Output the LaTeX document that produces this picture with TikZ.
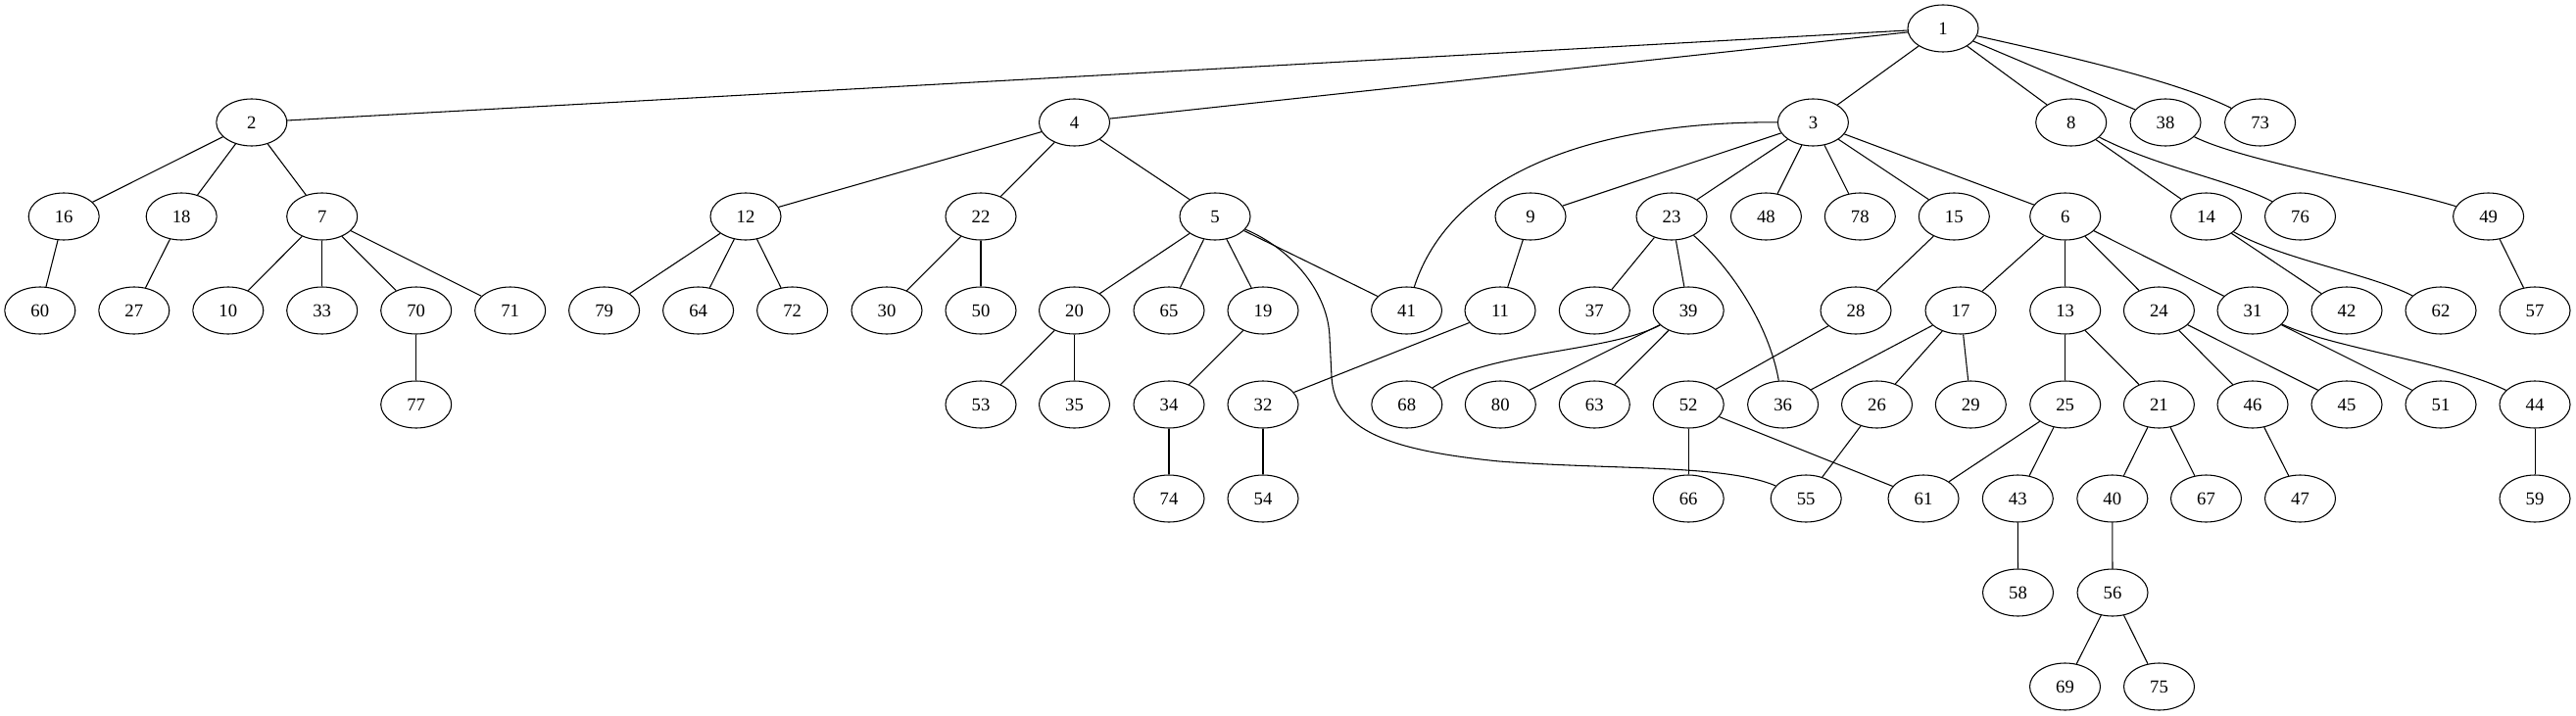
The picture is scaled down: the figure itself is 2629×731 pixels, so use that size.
\documentclass[tikz,border=0pt]{standalone}
\usepackage{fontspec}
\setmainfont{Liberation Serif}
\usetikzlibrary{shapes.geometric}
\tikzset{
  nd/.style={draw, ellipse, minimum width=54pt, minimum height=36pt, inner sep=0pt, line width=0.8pt, font=\fontsize{14}{16}\selectfont},
  ed/.style={line width=0.8pt}
}
\begin{document}
\begin{tikzpicture}[x=0.75pt,y=-0.75pt]
\useasboundingbox (0,0) rectangle (2629,731);
% row 0
\node[nd] (n1) at (1983,29) {1};
% row 1
\node[nd] (n2) at (256.8,125) {2};
\node[nd] (n4) at (1096.5,125) {4};
\node[nd] (n3) at (1850.4,125) {3};
\node[nd] (n8) at (2113.7,125) {8};
\node[nd] (n38) at (2210,125) {38};
\node[nd] (n73) at (2306.6,125) {73};
% row 2
\node[nd] (n16) at (65.2,221) {16};
\node[nd] (n18) at (185.2,221) {18};
\node[nd] (n7) at (328.7,221) {7};
\node[nd] (n12) at (761,221) {12};
\node[nd] (n22) at (1001,221) {22};
\node[nd] (n5) at (1240,221) {5};
\node[nd] (n9) at (1562,221) {9};
\node[nd] (n23) at (1706,221) {23};
\node[nd] (n48) at (1802.4,221) {48};
\node[nd] (n78) at (1898.3,221) {78};
\node[nd] (n15) at (1994.3,221) {15};
\node[nd] (n6) at (2107.7,221) {6};
\node[nd] (n14) at (2251.5,221) {14};
\node[nd] (n76) at (2347.5,221) {76};
\node[nd] (n49) at (2539.6,221) {49};
% row 3
\node[nd] (n60) at (40.8,317) {60};
\node[nd] (n27) at (136.8,317) {27};
\node[nd] (n10) at (232.8,317) {10};
\node[nd] (n33) at (328.7,317) {33};
\node[nd] (n70) at (424.7,317) {70};
\node[nd] (n71) at (520.7,317) {71};
\node[nd] (n79) at (616.6,317) {79};
\node[nd] (n64) at (712.6,317) {64};
\node[nd] (n72) at (808.6,317) {72};
\node[nd] (n30) at (905,317) {30};
\node[nd] (n50) at (1001,317) {50};
\node[nd] (n20) at (1096.5,317) {20};
\node[nd] (n65) at (1193,317) {65};
\node[nd] (n19) at (1289,317) {19};
\node[nd] (n41) at (1435.5,317) {41};
\node[nd] (n11) at (1531,317) {11};
\node[nd] (n37) at (1627.3,317) {37};
\node[nd] (n39) at (1723.2,317) {39};
\node[nd] (n28) at (1894,317) {28};
\node[nd] (n17) at (2001,317) {17};
\node[nd] (n13) at (2107.7,317) {13};
\node[nd] (n24) at (2203.4,317) {24};
\node[nd] (n31) at (2299,317) {31};
\node[nd] (n42) at (2395,317) {42};
\node[nd] (n62) at (2491,317) {62};
\node[nd] (n57) at (2587,317) {57};
% row 4
\node[nd] (n77) at (424.7,413) {77};
\node[nd] (n53) at (1001,413) {53};
\node[nd] (n35) at (1096.5,413) {35};
\node[nd] (n34) at (1193,413) {34};
\node[nd] (n32) at (1289,413) {32};
\node[nd] (n68) at (1435.8,413) {68};
\node[nd] (n80) at (1531.3,413) {80};
\node[nd] (n63) at (1627.3,413) {63};
\node[nd] (n52) at (1723.2,413) {52};
\node[nd] (n36) at (1819.6,413) {36};
\node[nd] (n26) at (1915.5,413) {26};
\node[nd] (n29) at (2011.3,413) {29};
\node[nd] (n25) at (2107.7,413) {25};
\node[nd] (n21) at (2203.4,413) {21};
\node[nd] (n46) at (2299,413) {46};
\node[nd] (n45) at (2395,413) {45};
\node[nd] (n51) at (2491,413) {51};
\node[nd] (n44) at (2587,413) {44};
% row 5
\node[nd] (n74) at (1193,509) {74};
\node[nd] (n54) at (1289,509) {54};
\node[nd] (n66) at (1723.2,509) {66};
\node[nd] (n55) at (1843.2,509) {55};
\node[nd] (n61) at (1963,509) {61};
\node[nd] (n43) at (2059.3,509) {43};
\node[nd] (n40) at (2155.8,509) {40};
\node[nd] (n67) at (2251.5,509) {67};
\node[nd] (n47) at (2347.5,509) {47};
\node[nd] (n59) at (2587,509) {59};
% row 6
\node[nd] (n58) at (2059.5,605) {58};
\node[nd] (n56) at (2156,605) {56};
% row 7
\node[nd] (n69) at (2107.5,701) {69};
\node[nd] (n75) at (2203.5,701) {75};
% straight edges
\foreach \a/\b in {1/2,1/4,1/3,1/8,1/38,
  2/16,2/18,2/7,16/60,18/27,7/10,7/33,7/70,7/71,70/77,
  4/12,4/22,4/5,12/79,12/64,12/72,22/30,22/50,
  5/20,5/65,5/19,5/41,20/53,20/35,19/34,34/74,
  3/9,3/23,3/48,3/78,3/15,3/6,9/11,11/32,32/54,
  23/37,23/39,39/80,39/63,15/28,28/52,52/66,52/61,
  6/17,6/13,6/24,6/31,17/36,17/26,17/29,26/55,
  13/25,13/21,25/61,25/43,43/58,21/40,21/67,40/56,56/69,56/75,
  24/46,24/45,46/47,31/51,44/59,8/14,14/42,49/57}
  \draw[ed] (n\a) -- (n\b);
% curved edges
\draw[ed] (n1) .. controls (2100,55) and (2220,82) .. (n73);
\draw[ed] (n3) .. controls (1620,124) and (1480,180) .. (n41);
\draw[ed] (n23) .. controls (1765,272) and (1805,330) .. (n36);
\draw[ed] (n39) .. controls (1640,360) and (1520,358) .. (n68);
\draw[ed] (n5) .. controls (1320,255) and (1356,300) .. (1357,345) -- (1359,385)
  .. controls (1362,440) and (1420,460) .. (1530,471)
  .. controls (1650,480) and (1760,474) .. (n55);
\draw[ed] (n8) .. controls (2200,170) and (2280,185) .. (n76);
\draw[ed] (n38) .. controls (2290,165) and (2440,190) .. (n49);
\draw[ed] (n14) .. controls (2330,265) and (2420,280) .. (n62);
\draw[ed] (n31) .. controls (2380,355) and (2500,370) .. (n44);
\end{tikzpicture}
\end{document}
